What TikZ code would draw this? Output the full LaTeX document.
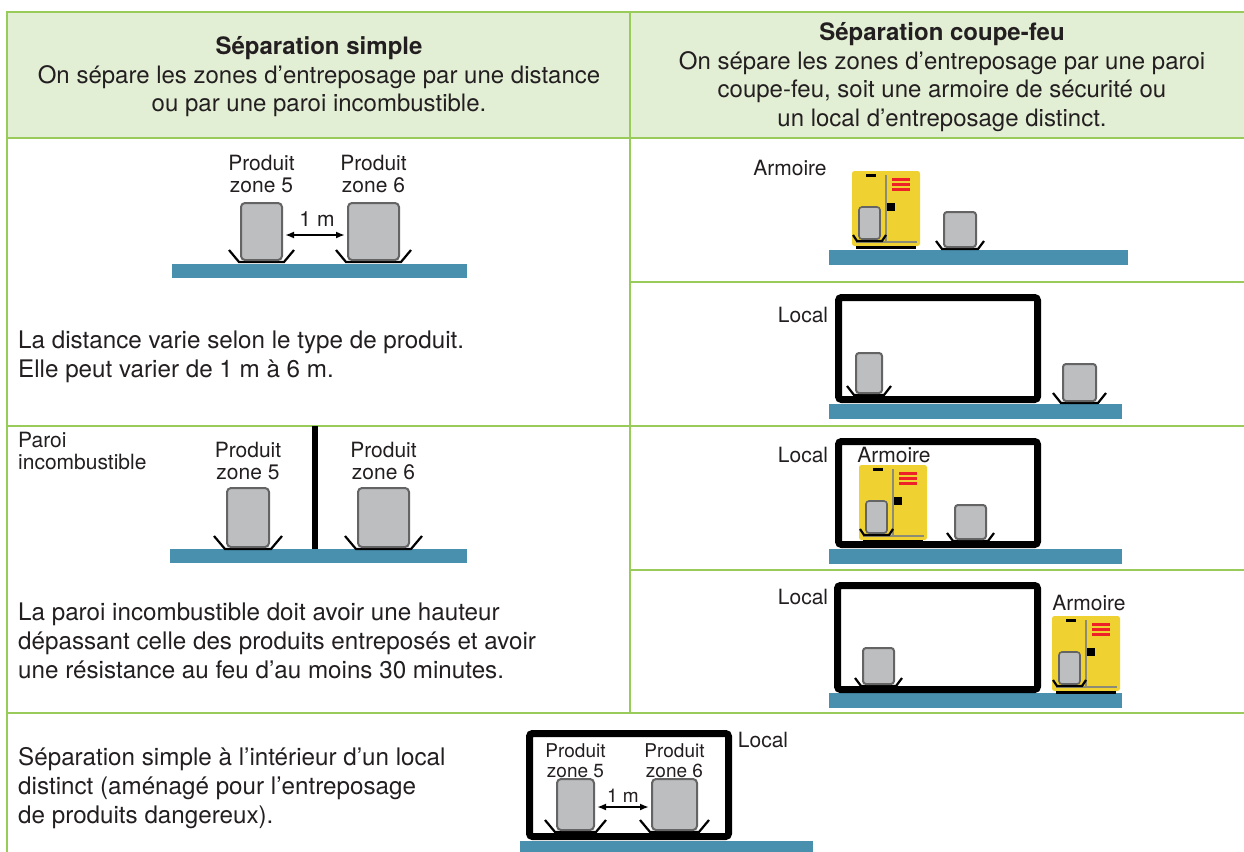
\documentclass[tikz,border=0pt]{standalone}
\usepackage{fontspec}
\setmainfont{TeX Gyre Heros}
\usetikzlibrary{arrows.meta,calc}
\definecolor{gridgreen}{RGB}{152,203,90}
\definecolor{headfill}{RGB}{227,239,213}
\definecolor{floorteal}{RGB}{72,144,174}
\definecolor{prodgray}{RGB}{189,190,192}
\definecolor{prodedge}{RGB}{100,100,100}
\definecolor{armyellow}{RGB}{239,209,50}
\definecolor{armred}{RGB}{237,33,39}
\definecolor{armgray}{RGB}{140,140,118}
\definecolor{textblack}{RGB}{35,31,32}
% #1 extra style, #2 name, #3 x1, #4 y1, #5 x2, #6 y2, #7 cradle size
\newcommand\prodbox[7][]{%
  \draw[cradle] ({#3-#7},{#6+2-#7}) -- ({#3-2},{#6+2}) -- ({#5+2},{#6+2}) -- ({#5+#7},{#6+2-#7});
  \node[prod,#1,minimum width={(#5-#3)*1bp},minimum height={(#6-#4)*1bp}] (#2) at ({(#3+#5)/2},{(#4+#6)/2}) {};
}
% #1 name, #2 x1, #3 y1, #4 x2, #5 y2 (outer edges)
\newcommand\localbox[5]{%
  \node[localwall,minimum width={(#4-#2-7)*1bp},minimum height={(#5-#3-7)*1bp}] (#1) at ({(#2+#4)/2},{(#3+#5)/2}) {};
}
\tikzset{
  grid/.style={draw=gridgreen, line width=2bp},
  floor/.style={fill=floorteal, draw=none},
  prod/.style={draw=prodedge, fill=prodgray, line width=2bp, rounded corners=4bp, inner sep=0pt, outer sep=0pt},
  cradle/.style={draw=black, line width=2.2bp},
  localwall/.style={draw=black, line width=7bp, rounded corners=3bp, inner sep=0pt, outer sep=0pt},
  body/.style={font=\fontsize{24.2bp}{29bp}\selectfont, inner sep=0pt, align=left, anchor=base west, text=textblack},
  head/.style={font=\fontsize{24bp}{28.5bp}\selectfont, inner sep=0pt, align=center, anchor=base, text=textblack},
  lbl/.style={font=\fontsize{21bp}{22bp}\selectfont, inner sep=0pt, align=center, anchor=base, text=textblack},
  lblsmall/.style={font=\fontsize{19bp}{20bp}\selectfont, inner sep=0pt, align=center, anchor=base, text=textblack},
  dimarrow/.style={{Latex[length=9bp,width=7bp]}-{Latex[length=9bp,width=7bp]}, line width=2.2bp, black},
  armoire/.pic={
    \fill[armyellow, rounded corners=2.5bp] (0,0) rectangle (68,75);
    \fill[black] (4,75) rectangle (64,78);
    \draw[armgray, line width=1.5bp] (34,4) -- (34,71);
    \draw[armgray, line width=2bp] (4,71) -- (65,71);
    \fill[black] (14,3) rectangle (24,6);
    \foreach \yy in {8.5,13.5,18.5} \draw[armred, line width=2.8bp] (40,\yy) -- (58,\yy);
    \fill[black] (35,32) rectangle (43,40);
    \prodbox[rounded corners=3bp, line width=1.6bp]{-in}{7}{36}{28}{68}{6}
  }
}
\begin{document}
\begin{tikzpicture}[x=1bp, y=-1bp]
\useasboundingbox (0,0) rectangle (1244,852);
\fill[white] (0,0) rectangle (1244,852);
% header (anchor = baseline of last line)
\fill[headfill] (7,12) rectangle (1244,138);
\node[head] (h1) at (319,111.5) {\textbf{Séparation simple}\\On sépare les zones d’entreposage par une distance\\ou par une paroi incombustible.};
\node[head] (h2) at (942,126) {\textbf{Séparation coupe-feu}\\On sépare les zones d’entreposage par une paroi\\coupe-feu, soit une armoire de sécurité ou\\un local d’entreposage distinct.};
% grid
\draw[grid] (1244,12) -- (7,12) -- (7,852);
\draw[grid] (7,138) -- (1244,138);
\draw[grid] (630,12) -- (630,713);
\draw[grid] (7,426) -- (1244,426);
\draw[grid] (7,713) -- (1244,713);
\draw[grid] (630,282) -- (1244,282);
\draw[grid] (630,570) -- (1244,570);

% ---- Section 1: simple distance
\fill[floor] (172,264) rectangle (467,278);
\prodbox{s1a}{241}{203}{282}{260}{12}
\prodbox{s1b}{348}{203}{399}{260}{12}
\node[lbl] (l1a) at (261.5,192) {Produit\\zone 5};
\node[lbl] (l1b) at (373.5,192) {Produit\\zone 6};
\draw[dimarrow] ($(s1a.east)+(3,3.5)$) -- ($(s1b.west)+(-3,3.5)$);
\node[lbl] (m1) at (317,226) {1 m};
\node[body] (t1) at (18,377) {La distance varie selon le type de produit.\\Elle peut varier de 1 m à 6 m.};

% ---- Section 2: wall
\fill[floor] (170,549) rectangle (467,563);
\draw[black, line width=6bp] (315,426) -- (315,549);
\prodbox{s2a}{227}{488}{269}{547}{13}
\prodbox{s2b}{358}{488}{409}{547}{13}
\node[lbl, align=left, anchor=base west] (paroi) at (18,469) {Paroi\\incombustible};
\node[lbl] (l2a) at (248,479) {Produit\\zone 5};
\node[lbl] (l2b) at (383.5,479) {Produit\\zone 6};
\node[body] (t2) at (18,678) {La paroi incombustible doit avoir une hauteur\\dépassant celle des produits entreposés et avoir\\une résistance au feu d’au moins 30 minutes.};

% ---- Section 3: local with simple separation
\fill[floor] (520,841) rectangle (813,852);
\localbox{loc3}{526}{730}{732}{840}
\prodbox{s3a}{557}{779}{594}{830}{12}
\prodbox{s3b}{652}{779}{697}{830}{12}
\node[lblsmall] (l3a) at (575.5,777) {Produit\\zone 5};
\node[lblsmall] (l3b) at (674.5,777) {Produit\\zone 6};
\draw[dimarrow] ($(s3a.east)+(3,2.5)$) -- ($(s3b.west)+(-3,2.5)$);
\node[lblsmall] (m3) at (623,802) {1 m};
\node[lbl] (lo3) at (763,747) {Local};
\node[body] (t3) at (18,823) {Séparation simple à l’intérieur d’un local\\distinct (aménagé pour l’entreposage\\de produits dangereux).};

% ---- Row A: armoire
\fill[floor] (829,250) rectangle (1128,265);
\pic (armA) at (852,171) {armoire};
\prodbox[rounded corners=3bp]{rAb}{944}{212}{976}{247}{8}
\node[lbl] (arA) at (790,175) {Armoire};

% ---- Row B: local
\fill[floor] (829,404) rectangle (1122,419);
\localbox{locB}{835}{294}{1041}{403}
\prodbox[rounded corners=3bp]{rBa}{856}{353}{882}{393}{9}
\prodbox[rounded corners=3bp]{rBb}{1063}{364}{1096}{401}{10}
\node[lbl] (loB) at (803,322) {Local};

% ---- Row C: armoire inside local
\fill[floor] (829,549) rectangle (1122,564);
\localbox{locC}{835}{438}{1041}{548}
\pic (armC) at (859,465) {armoire};
\prodbox[rounded corners=3bp]{rCb}{955}{505}{986}{539}{8}
\node[lbl] (loC) at (803,462) {Local};
\node[lbl] (arC) at (894,462) {Armoire};

% ---- Row D: local and armoire outside
\fill[floor] (829,693) rectangle (1122,708);
\localbox{locD}{834}{582}{1041}{693}
\prodbox[rounded corners=3bp]{rDa}{863}{648}{894}{684}{8}
\pic (armD) at (1052,616) {armoire};
\node[lbl] (loD) at (803,604) {Local};
\node[lbl] (arD) at (1089,610) {Armoire};
\end{tikzpicture}
\end{document}
